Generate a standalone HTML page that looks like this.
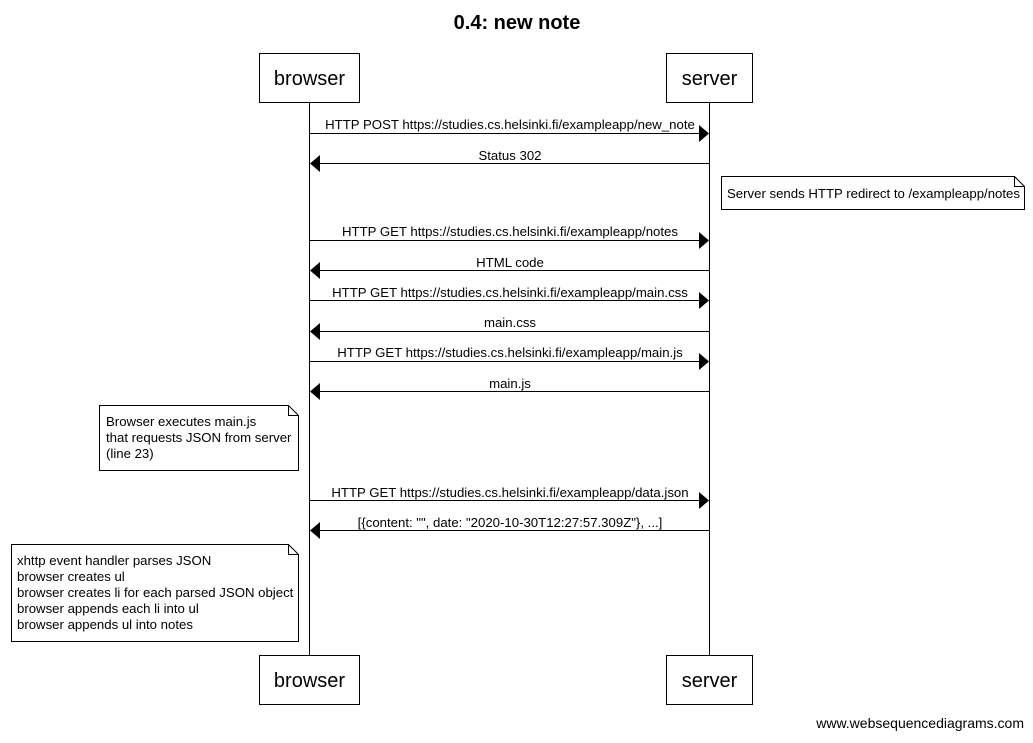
<!DOCTYPE html>
<html><head><meta charset="utf-8"><style>body{margin:0;background:#fff}</style></head><body>
<svg width="1033" height="738" xmlns="http://www.w3.org/2000/svg" font-family="Liberation Sans, Arial, sans-serif">
<rect width="1033" height="738" fill="#fff"/>
<text x="517" y="29" font-size="20" font-weight="bold" text-anchor="middle">0.4: new note</text>
<g stroke="#000" stroke-width="1" fill="none">
<line x1="309.5" y1="102" x2="309.5" y2="655"/>
<line x1="709.5" y1="102" x2="709.5" y2="655"/>
<rect x="259.5" y="53.5" width="100" height="49" fill="#fff"/>
<rect x="666.5" y="53.5" width="86" height="49" fill="#fff"/>
<rect x="259.5" y="655.5" width="100" height="49" fill="#fff"/>
<rect x="666.5" y="655.5" width="86" height="49" fill="#fff"/>
<path d="M721.5 176.5H1014.5L1024.5 186.5V209.5H721.5Z" fill="#fff"/>
<path d="M1014.5 176.5V186.5H1024.5"/>
<path d="M99.5 405.5H288.5L298.5 415.5V470.5H99.5Z" fill="#fff"/>
<path d="M288.5 405.5V415.5H298.5"/>
<path d="M11.5 544.5H288.5L298.5 554.5V641.5H11.5Z" fill="#fff"/>
<path d="M288.5 544.5V554.5H298.5"/>
<line x1="309" y1="133.5" x2="700" y2="133.5"/>
<line x1="319" y1="163.5" x2="709" y2="163.5"/>
<line x1="309" y1="240.5" x2="700" y2="240.5"/>
<line x1="319" y1="270.5" x2="709" y2="270.5"/>
<line x1="309" y1="300.5" x2="700" y2="300.5"/>
<line x1="319" y1="331.5" x2="709" y2="331.5"/>
<line x1="309" y1="361.5" x2="700" y2="361.5"/>
<line x1="319" y1="391.5" x2="709" y2="391.5"/>
<line x1="309" y1="500.5" x2="700" y2="500.5"/>
<line x1="319" y1="530.5" x2="709" y2="530.5"/>
</g>
<g fill="#000">
<path d="M699 125L709 133.5L699 142Z"/>
<path d="M320 155L310 163.5L320 172Z"/>
<path d="M699 232L709 240.5L699 249Z"/>
<path d="M320 262L310 270.5L320 279Z"/>
<path d="M699 292L709 300.5L699 309Z"/>
<path d="M320 323L310 331.5L320 340Z"/>
<path d="M699 353L709 361.5L699 370Z"/>
<path d="M320 383L310 391.5L320 400Z"/>
<path d="M699 492L709 500.5L699 509Z"/>
<path d="M320 522L310 530.5L320 539Z"/>
</g>
<g font-size="20" text-anchor="middle">
<text x="309.5" y="85">browser</text><text x="709.5" y="85">server</text>
<text x="309.5" y="687">browser</text><text x="709.5" y="687">server</text>
</g>
<g font-size="13.2" text-anchor="middle">
<text x="510" y="129">HTTP POST https://studies.cs.helsinki.fi/exampleapp/new_note</text>
<text x="510" y="160">Status 302</text>
<text x="510" y="236">HTTP GET https://studies.cs.helsinki.fi/exampleapp/notes</text>
<text x="510" y="267">HTML code</text>
<text x="510" y="297">HTTP GET https://studies.cs.helsinki.fi/exampleapp/main.css</text>
<text x="510" y="327">main.css</text>
<text x="510" y="357">HTTP GET https://studies.cs.helsinki.fi/exampleapp/main.js</text>
<text x="510" y="388">main.js</text>
<text x="510" y="497">HTTP GET https://studies.cs.helsinki.fi/exampleapp/data.json</text>
<text x="510" y="527">[{content: "", date: "2020-10-30T12:27:57.309Z"}, ...]</text>
</g>
<g font-size="13.2">
<text x="727" y="198">Server sends HTTP redirect to /exampleapp/notes</text>
<text x="106" y="426">Browser executes main.js</text>
<text x="106" y="442">that requests JSON from server</text>
<text x="106" y="458">(line 23)</text>
<text x="17" y="565">xhttp event handler parses JSON</text>
<text x="17" y="581">browser creates ul</text>
<text x="17" y="597">browser creates li for each parsed JSON object</text>
<text x="17" y="613">browser appends each li into ul</text>
<text x="17" y="629">browser appends ul into notes</text>
<text x="1024" y="728" font-size="14" text-anchor="end">www.websequencediagrams.com</text>
</g>
</svg>
</body></html>
